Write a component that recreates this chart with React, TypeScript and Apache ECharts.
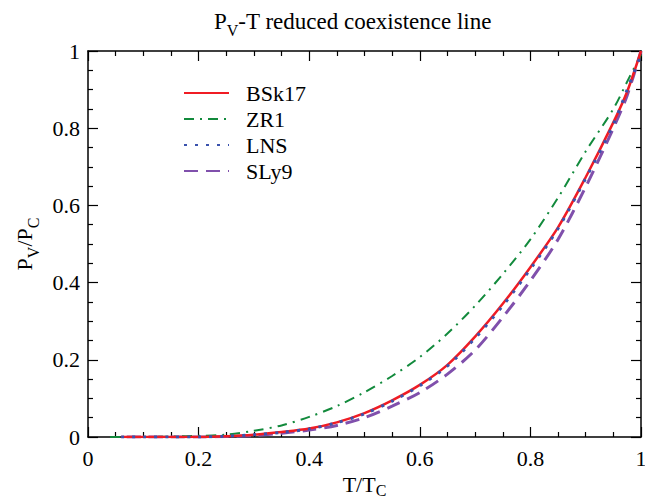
import React, { useEffect, useRef } from "react";
import * as echarts from "echarts";

const FONT = "Liberation Serif";

const tBSk17 = [0.06, 0.1, 0.15, 0.2, 0.25, 0.3, 0.35, 0.4, 0.45, 0.5, 0.55, 0.6, 0.65, 0.7, 0.75, 0.8, 0.85, 0.9, 0.95, 0.975, 1.0];
const pBSk17 = [0, 0, 0, 0.0, 0.002, 0.006, 0.013, 0.022, 0.038, 0.062, 0.095, 0.135, 0.187, 0.26, 0.345, 0.44, 0.543, 0.673, 0.815, 0.895, 1.0];

const tZR1 = [0.04, 0.1, 0.15, 0.2, 0.25, 0.3, 0.35, 0.4, 0.45, 0.5, 0.55, 0.6, 0.65, 0.7, 0.75, 0.8, 0.85, 0.9, 0.95, 0.98, 1.0];
const pZR1 = [0, 0, 0.001, 0.003, 0.006, 0.016, 0.03, 0.052, 0.08, 0.116, 0.158, 0.207, 0.268, 0.34, 0.422, 0.512, 0.62, 0.74, 0.85, 0.935, 0.99];

const tLNS = [0.06, 0.1, 0.15, 0.2, 0.25, 0.3, 0.35, 0.4, 0.45, 0.5, 0.55, 0.6, 0.65, 0.7, 0.75, 0.8, 0.85, 0.9, 0.95, 0.975, 1.0];
const pLNS = [0, 0, 0, 0.0, 0.002, 0.006, 0.012, 0.021, 0.037, 0.06, 0.093, 0.133, 0.184, 0.256, 0.34, 0.435, 0.54, 0.67, 0.81, 0.9, 0.99];

const tSLy9 = [0.07, 0.1, 0.15, 0.2, 0.25, 0.3, 0.35, 0.4, 0.45, 0.5, 0.55, 0.6, 0.65, 0.7, 0.75, 0.8, 0.85, 0.9, 0.95, 0.975, 1.0];
const pSLy9 = [0, 0, 0, 0.0, 0.001, 0.004, 0.01, 0.018, 0.03, 0.05, 0.08, 0.115, 0.163, 0.225, 0.31, 0.405, 0.512, 0.648, 0.8, 0.885, 1.0];

const seriesNames = ["BSk17", "ZR1", "LNS", "SLy9"];
const xTicks = { min: 0, max: 1, interval: 0.2 };
const yTicks = { min: 0, max: 1, interval: 0.2 };

const pair = (t: number[], p: number[]) => t.map((v, i) => [v, p[i]]);

const rich = {
  a: { fontFamily: FONT, fontSize: 22, fontWeight: "normal", color: "#000" },
  t: { fontFamily: FONT, fontSize: 23, fontWeight: "normal", color: "#000" },
  s: { fontFamily: FONT, fontSize: 16, fontWeight: "normal", color: "#000", padding: [17, 0, 0, 0] },
  c: { fontFamily: FONT, fontSize: 16, fontWeight: "normal", color: "#000", padding: [12, 0, 0, 0] },
  n: { fontFamily: FONT, fontSize: 22, fontWeight: "normal", color: "#000" },
};

export default function App() {
  const ref = useRef<HTMLDivElement>(null);
  useEffect(() => {
    if (!ref.current) return;
    const chart = echarts.init(ref.current, undefined, { renderer: "svg" });
    const axisCommon = {
      axisLine: { onZero: false, lineStyle: { color: "#000", width: 1.5 } },
      axisTick: { inside: true, length: 10, lineStyle: { color: "#000", width: 1.2 } },
      minorTick: { show: true, splitNumber: 4, length: 5, lineStyle: { color: "#000", width: 1.2 } },
      splitLine: { show: false },
    };
    const fmt = (v: number) => "{n|" + String(Math.round(v * 10) / 10) + "}";
    chart.setOption({
      animation: false,
      title: {
        text: "{t|P}{s|V}{t|-T reduced coexistence line}",
        left: 209,
        top: 0,
        textStyle: { fontWeight: "normal", rich },
      },
      legend: {
        orient: "vertical",
        left: 178,
        top: 77,
        itemWidth: 45,
        itemHeight: 12,
        itemGap: 4,
        itemStyle: { opacity: 0 },
        formatter: (name: string) => "{a|" + name + "}",
        textStyle: { rich, padding: [0, 0, 0, 12] },
        data: seriesNames,
      },
      grid: { left: 88, right: 4, top: 51, bottom: 62, outerBoundsMode: "none", containLabel: false },
      xAxis: [
        {
          type: "value",
          ...xTicks,
          position: "bottom",
          ...axisCommon,
          axisLabel: { formatter: fmt, rich, margin: 10 },
          name: "{a|T/T}{c|C}",
          nameLocation: "middle",
          nameGap: 29,
          nameTextStyle: { rich },
        },
        {
          type: "value",
          ...xTicks,
          position: "top",
          ...axisCommon,
          axisLabel: { show: false },
        },
      ],
      yAxis: [
        {
          type: "value",
          ...yTicks,
          position: "left",
          ...axisCommon,
          axisLabel: { formatter: fmt, rich, margin: 8 },
          name: "{a|P}{s|V}{a|/P}{s|C}",
          nameLocation: "middle",
          nameGap: 47,
          nameTextStyle: { rich },
        },
        {
          type: "value",
          ...yTicks,
          position: "right",
          ...axisCommon,
          axisLabel: { show: false },
        },
      ],
      series: [
        {
          name: seriesNames[0],
          type: "line",
          data: pair(tBSk17, pBSk17),
          smooth: 0.3,
          showSymbol: false,
          symbol: "none",
          z: 5,
          lineStyle: { color: "#f01c24", width: 2.5, type: "solid" },
          itemStyle: { color: "#f01c24" },
        },
        {
          name: seriesNames[1],
          type: "line",
          data: pair(tZR1, pZR1),
          smooth: 0.3,
          showSymbol: false,
          symbol: "none",
          z: 4,
          lineStyle: { color: "#128a3c", width: 2, type: [10, 6, 2, 6] },
          itemStyle: { color: "#128a3c" },
        },
        {
          name: seriesNames[2],
          type: "line",
          data: pair(tLNS, pLNS),
          smooth: 0.3,
          showSymbol: false,
          symbol: "none",
          z: 6,
          lineStyle: { color: "#3a52ad", width: 3, type: [3, 8] },
          itemStyle: { color: "#3a52ad" },
        },
        {
          name: seriesNames[3],
          type: "line",
          data: pair(tSLy9, pSLy9),
          smooth: 0.3,
          showSymbol: false,
          symbol: "none",
          z: 3,
          lineStyle: { color: "#8050ac", width: 3, type: [14, 8] },
          itemStyle: { color: "#8050ac" },
        },
      ],
    });
    return () => chart.dispose();
  }, []);
  return (
    <div
      ref={ref}
      style={{ position: "fixed", left: 0, top: 0, width: 645, height: 499, background: "#fff" }}
    />
  );
}
